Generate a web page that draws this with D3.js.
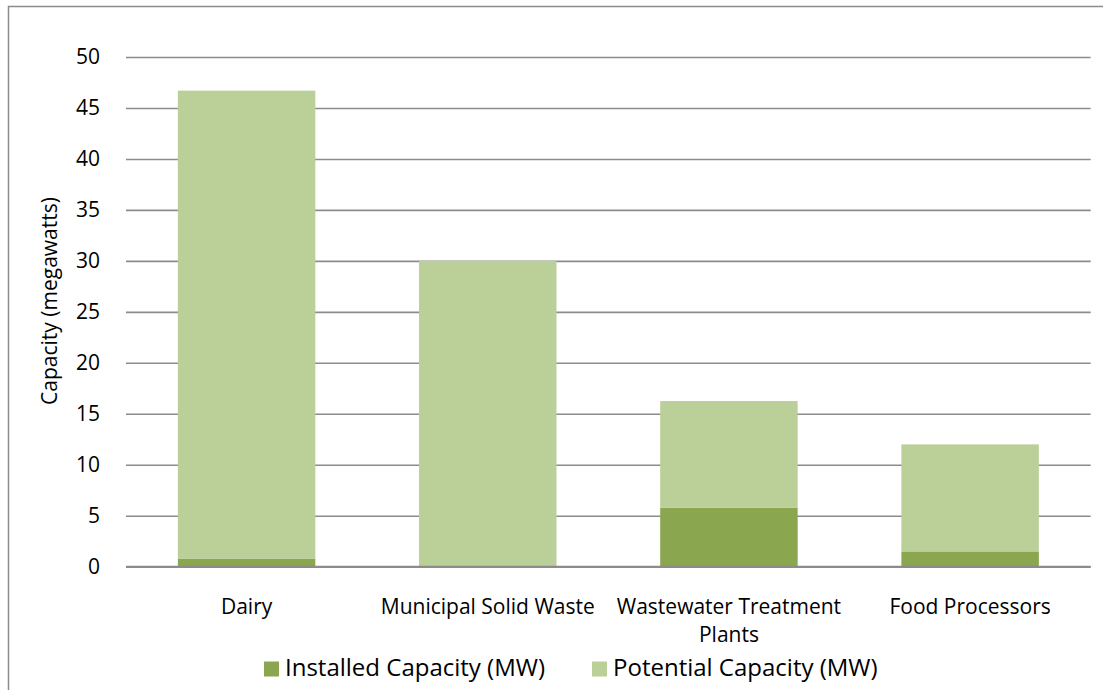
<!DOCTYPE html>
<html>
<head>
<meta charset="utf-8">
<script src="https://cdn.jsdelivr.net/npm/d3@7"></script>
<style>
  html, body { margin: 0; padding: 0; background: #fff; }
  svg { display: block; }
  text { font-family: "Open Sans", Lato, sans-serif; fill: #000; }
</style>
</head>
<body>
<svg id="chart" width="1103" height="690"></svg>
<script>
const categories = ["Dairy", "Municipal Solid Waste", "Wastewater Treatment Plants", "Food Processors"];
const installed = [0.8, 0, 5.8, 1.5];
const potential = [45.9, 30, 10.45, 10.5];
const seriesNames = ["Installed Capacity (MW)", "Potential Capacity (MW)"];
const seriesColors = ["#8aa64f", "#bbcf98"];
const yTicks = [0, 5, 10, 15, 20, 25, 30, 35, 40, 45, 50];

const svg = d3.select("#chart");
const W = 1103, H = 690;
const margin = { left: 126, right: 12, top: 57, bottom: 123 };
const x0 = margin.left, x1 = W - margin.right - 0.3;
const yTop = margin.top, yBot = H - margin.bottom - 0.3;

// outer frame
svg.append("path")
  .attr("d", `M8.5,${H + 2} L8.5,6.5 L${W + 2},6.5`)
  .attr("fill", "none").attr("stroke", "#8c8c8c").attr("stroke-width", 1.5);

const x = d3.scaleBand().domain(categories).range([x0, x1])
  .paddingInner(0.43).paddingOuter(0.215);
const y = d3.scaleLinear().domain([0, 50]).range([yBot, yTop]);

// gridlines + tick labels
const yAxis = d3.axisLeft(y).tickValues(yTicks).tickSize(-(x1 - x0)).tickPadding(26);
const gy = svg.append("g").attr("transform", `translate(${x0},0)`).call(yAxis);
gy.select(".domain").remove();
gy.selectAll(".tick line").attr("stroke", "#8c8c8c").attr("stroke-width", 1.6);
gy.selectAll(".tick text").attr("font-size", 21).attr("fill", "#000");

// stacked data
const rows = categories.map((c, i) => ({ cat: c, installed: installed[i], potential: potential[i] }));
const stack = d3.stack().keys(["installed", "potential"]);
const layers = stack(rows);

svg.append("g").selectAll("g").data(layers).join("g")
  .attr("fill", (d, i) => seriesColors[i])
  .selectAll("rect").data(d => d).join("rect")
  .attr("x", d => x(d.data.cat))
  .attr("width", x.bandwidth())
  .attr("y", d => y(d[1]))
  .attr("height", d => Math.max(0, y(d[0]) - y(d[1])));

// baseline
svg.append("line").attr("x1", x0).attr("x2", x1).attr("y1", y(0)).attr("y2", y(0))
  .attr("stroke", "#8c8c8c").attr("stroke-width", 1.8);

// x labels
const xAxis = d3.axisBottom(x).tickSize(0).tickPadding(0);
const gx = svg.append("g").attr("transform", `translate(0,${y(0)})`).call(xAxis);
gx.select(".domain").remove();
gx.selectAll(".tick text").attr("font-size", 21).attr("fill", "#000")
  .attr("dy", null).attr("y", 47)
  .each(function (d) {
    const t = d3.select(this);
    const words = d.split(" ");
    const maxW = 236;
    t.text(null);
    let line = [], lineNo = 0;
    let tspan = t.append("tspan").attr("x", 0).attr("y", 47);
    for (const w of words) {
      line.push(w);
      tspan.text(line.join(" "));
      if (tspan.node().getComputedTextLength() > maxW && line.length > 1) {
        line.pop();
        tspan.text(line.join(" "));
        line = [w];
        lineNo++;
        tspan = t.append("tspan").attr("x", 0).attr("y", 47 + lineNo * 28).text(w);
      }
    }
  });

// y axis title
svg.append("text")
  .attr("transform", `translate(57,301) rotate(-90)`)
  .attr("text-anchor", "middle")
  .attr("font-size", 21)
  .text("Capacity (megawatts)");

// legend
const legendX = [264, 592];
const lg = svg.append("g");
seriesNames.forEach((name, i) => {
  lg.append("rect").attr("x", legendX[i]).attr("y", 661.5).attr("width", 15).attr("height", 15)
    .attr("fill", seriesColors[i]);
  lg.append("text").attr("x", legendX[i] + 21).attr("y", 676).attr("font-size", 24).text(name);
});
</script>
</body>
</html>
